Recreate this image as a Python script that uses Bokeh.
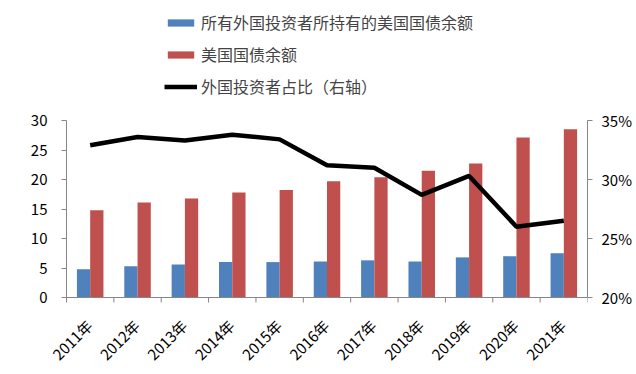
import math
from bokeh.plotting import figure
from bokeh.models import (ColumnDataSource, Range1d, LinearAxis, FixedTicker,
                          Legend, LegendItem, PrintfTickFormatter,
                          CustomJSTickFormatter)
from bokeh.core.properties import value
from bokeh.transform import dodge
from bokeh.embed import file_html
from bokeh.resources import INLINE

years = ["2011年", "2012年", "2013年", "2014年", "2015年", "2016年",
         "2017年", "2018年", "2019年", "2020年", "2021年"]
foreign_held = [4.8, 5.3, 5.6, 6.0, 6.0, 6.1, 6.3, 6.1, 6.8, 7.0, 7.5]
total_debt = [14.8, 16.1, 16.8, 17.8, 18.2, 19.7, 20.4, 21.5, 22.7, 27.1, 28.5]
foreign_share = [32.9, 33.6, 33.3, 33.8, 33.4, 31.2, 31.0, 28.7, 30.3, 26.0, 26.5]

left_ticks = [0, 5, 10, 15, 20, 25, 30]
left_tick_labels = ["0", "5", "10", "15", "20", "25", "30"]
right_ticks = [20, 25, 30, 35]

FONT = "Noto Sans CJK SC"
AXIS_COLOR = "#868686"

# layout (pixels): the frame fills the figure's height and reaches left of the
# value axis, so that the legend, the value labels and the rotated category
# labels can live inside it; the axes are bounded / fixed at data positions.
W, H = 636, 374
FRAME_L, AX_L, AX_R = 20.0, 66.0, 587.0
AX_TOP_PX, AX_BOT_PX = 120.0, 297.0
TICK_PX = 5.0

n = len(years)
xpx = (AX_R - AX_L) / n
x_range = Range1d(-(AX_L - FRAME_L) / xpx, n)

left_lo, left_hi = left_ticks[0], left_ticks[-1]
right_lo, right_hi = right_ticks[0], right_ticks[-1]
lpx = (AX_BOT_PX - AX_TOP_PX) / (left_hi - left_lo)
rpx = (AX_BOT_PX - AX_TOP_PX) / (right_hi - right_lo)
left_range = Range1d(left_lo - (H - AX_BOT_PX) / lpx, left_hi + AX_TOP_PX / lpx)
right_range = Range1d(right_lo - (H - AX_BOT_PX) / rpx, right_hi + AX_TOP_PX / rpx)

centers = [i + 0.5 for i in range(n)]
bounds = list(range(n + 1))
src = ColumnDataSource(dict(x=centers, foreign=foreign_held, total=total_debt,
                            share=foreign_share, label=years, base=[0] * n))
tick_src = ColumnDataSource(dict(x=bounds, y0=[0] * (n + 1),
                                 y1=[-TICK_PX / lpx] * (n + 1)))
ylab_src = ColumnDataSource(dict(x=[bounds[0]] * len(left_ticks), y=left_ticks,
                                 text=left_tick_labels))

p = figure(width=W, height=H, output_backend="svg", toolbar_location=None,
           x_range=x_range, y_range=left_range,
           x_axis_location=None, y_axis_location=None,
           min_border_left=int(FRAME_L), min_border_right=int(W - AX_R),
           min_border_top=0, min_border_bottom=0, outline_line_color=None)
p.extra_y_ranges = {"pct": right_range}
p.xgrid.visible = False
p.ygrid.visible = False

b1 = p.vbar(x=dodge("x", -0.14, range=p.x_range), top="foreign", width=0.28,
            source=src, color="#4F81BD", line_color=None)
b2 = p.vbar(x=dodge("x", 0.14, range=p.x_range), top="total", width=0.28,
            source=src, color="#C0504D", line_color=None)

# category axis: baseline, boundary ticks and rotated labels
p.segment(x0=bounds[0], y0=0, x1=bounds[-1], y1=0,
          line_color=AXIS_COLOR, line_width=1)
p.segment(x0="x", y0="y0", x1="x", y1="y1", source=tick_src,
          line_color=AXIS_COLOR, line_width=1)
p.text(x="x", y="base", text="label", source=src, angle=math.pi / 4,
       text_align="right", text_baseline="middle", x_offset=-1, y_offset=25,
       text_font=value(FONT), text_font_size="15px", text_color="#000000")

# value-axis labels (left)
p.text(x="x", y="y", text="text", source=ylab_src, text_align="right",
       text_baseline="middle", x_offset=-19, text_font=value(FONT),
       text_font_size="15px", text_color="#000000")

ln = p.line(x="x", y="share", source=src, y_range_name="pct",
            line_color="black", line_width=4.5)

# left axis line and ticks, fixed at the start of the categories
lax = LinearAxis(ticker=FixedTicker(ticks=left_ticks), bounds=(left_lo, left_hi),
                 fixed_location=bounds[0],
                 formatter=CustomJSTickFormatter(code="return '';"))
lax.axis_line_color = AXIS_COLOR
lax.major_tick_line_color = AXIS_COLOR
lax.major_tick_out = 5
lax.major_tick_in = 0
lax.minor_tick_line_color = None
lax.major_label_standoff = 0
p.add_layout(lax, "left")

# right axis
rax = LinearAxis(y_range_name="pct", ticker=FixedTicker(ticks=right_ticks),
                 bounds=(right_lo, right_hi),
                 formatter=PrintfTickFormatter(format="%d%%"))
rax.axis_line_color = AXIS_COLOR
rax.major_tick_line_color = AXIS_COLOR
rax.major_tick_out = 5
rax.major_tick_in = 0
rax.minor_tick_line_color = None
rax.major_label_text_font = FONT
rax.major_label_text_font_size = "15px"
rax.major_label_text_color = "#000000"
rax.major_label_standoff = 9
p.add_layout(rax, "right")

legend = Legend(items=[
    LegendItem(label="所有外国投资者所持有的美国国债余额", renderers=[b1]),
    LegendItem(label="美国国债余额", renderers=[b2]),
    LegendItem(label="外国投资者占比（右轴）", renderers=[ln]),
], orientation="vertical")
legend.location = (98 + (AX_L - FRAME_L), 276)
legend.glyph_width = 33
legend.glyph_height = 9
legend.label_height = 21
legend.spacing = 8
legend.padding = 4
legend.margin = 0
legend.label_standoff = 4
legend.label_text_font = FONT
legend.label_text_font_size = "16px"
legend.border_line_color = None
legend.background_fill_alpha = 0
p.add_layout(legend, "center")

open("out.html", "w").write(file_html(p, INLINE))
